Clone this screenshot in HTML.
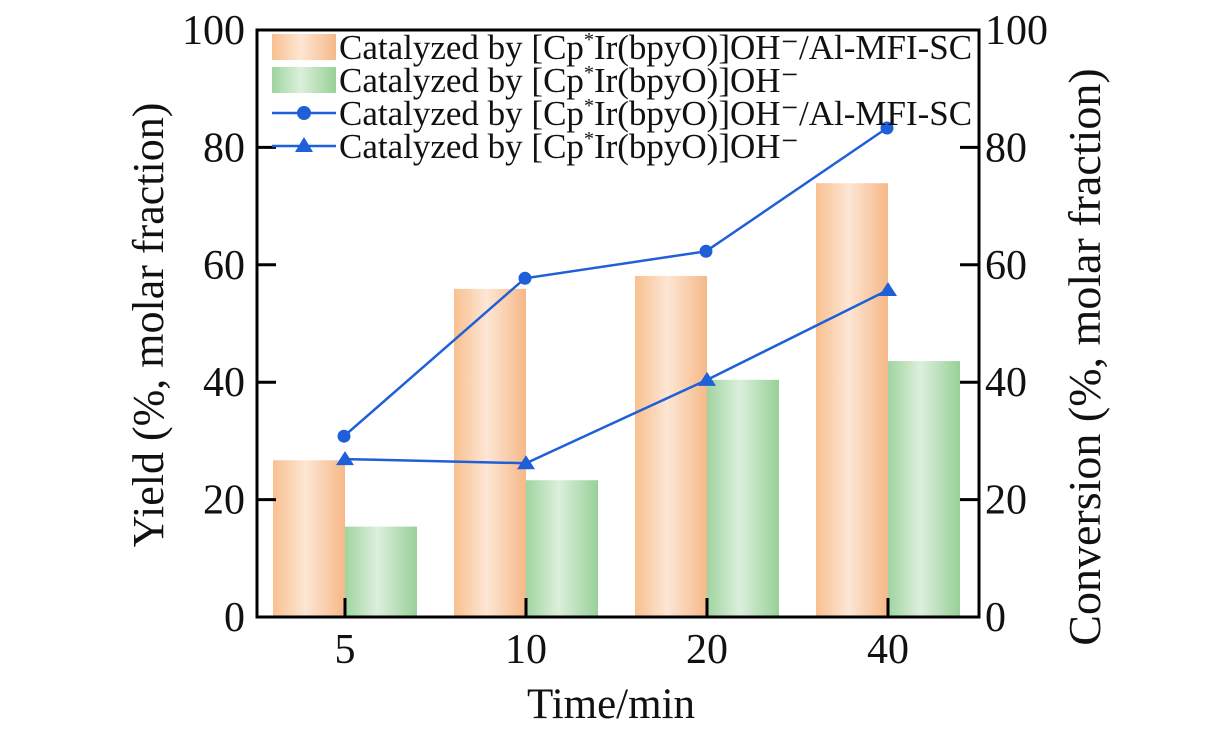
<!DOCTYPE html>
<html><head><meta charset="utf-8"><style>
body{margin:0;background:#fff;}
svg text{font-family:"Liberation Serif",serif;fill:#111;}
</style></head><body>
<svg id="chart" width="1231" height="724" xmlns="http://www.w3.org/2000/svg">
<defs>
<linearGradient id="go" x1="0" x2="1" y1="0" y2="0">
<stop offset="0" stop-color="#f8c090"/><stop offset="0.45" stop-color="#fde6d4"/><stop offset="1" stop-color="#f6b888"/></linearGradient>
<linearGradient id="gg" x1="0" x2="1" y1="0" y2="0">
<stop offset="0" stop-color="#9fd49f"/><stop offset="0.45" stop-color="#dcefdc"/><stop offset="1" stop-color="#98d098"/></linearGradient>
</defs>
<g id="bars"></g><g id="lines"></g><g id="axes"></g>
</svg>
<script>
const categories=["5","10","20","40"];
const yieldAlMFI=[26.7,55.9,58.1,73.9];
const yieldHomog=[15.4,23.3,40.4,43.6];
const convAlMFI=[30.8,57.7,62.3,83.3];
const convHomog=[26.9,26.2,40.4,55.7];
const yTicks=[0,20,40,60,80,100];
const NS="http://www.w3.org/2000/svg";
const L=257,R=979,T=30,B=617;
const y=v=>B-(v/100)*(B-T);
const xc=i=>345+i*181;
function mk(tag,attrs,parent,txt){const e=document.createElementNS(NS,tag);for(const k in attrs)e.setAttribute(k,attrs[k]);if(txt!==undefined)e.textContent=txt;(typeof parent==='string'?document.getElementById(parent):parent).appendChild(e);return e;}
const bw=72;
categories.forEach((c,i)=>{
 let r=mk('rect',{x:xc(i)-bw,y:y(yieldAlMFI[i]),width:bw,height:B-y(yieldAlMFI[i]),fill:'url(#go)'},'bars');
 
 
 let g=mk('rect',{x:xc(i),y:y(yieldHomog[i]),width:bw,height:B-y(yieldHomog[i]),fill:'url(#gg)'},'bars');
 
 
});
function series(vals,marker,name){
 const pts=vals.map((v,i)=>[xc(i)+(marker==='c'?-1:0),y(v)]);
 let p=mk('polyline',{points:pts.map(p=>p.join(',')).join(' '),fill:'none',stroke:'#1f5fd8','stroke-width':2.5},'lines');
 
 
 pts.forEach((q,i)=>{
  let m;
  if(marker==='c')m=mk('circle',{cx:q[0],cy:q[1],r:6.5,fill:'#1f5fd8'},'lines');
  else m=mk('polygon',{points:`${q[0]},${q[1]-8} ${q[0]-9},${q[1]+6} ${q[0]+9},${q[1]+6}`,fill:'#1f5fd8'},'lines');
  
  
 });
}
series(convAlMFI,'c','conversion-al-mfi');
series(convHomog,'t','conversion-homogeneous');
let fr=mk('rect',{x:L,y:T,width:R-L,height:B-T,fill:'none',stroke:'#000','stroke-width':3},'axes');

yTicks.forEach(t=>{
 mk('line',{x1:L,x2:L+19,y1:y(t),y2:y(t),stroke:'#000','stroke-width':3},'axes');
 mk('line',{x1:R-19,x2:R,y1:y(t),y2:y(t),stroke:'#000','stroke-width':3},'axes');
 let a=mk('text',{x:L-12,y:y(t)+14,'text-anchor':'end','font-size':42},'axes',t);
 
 let b=mk('text',{x:R+6,y:y(t)+14,'text-anchor':'start','font-size':42},'axes',t);
 
});
categories.forEach((c,i)=>{
 mk('line',{x1:xc(i),x2:xc(i),y1:B,y2:B-19,stroke:'#000','stroke-width':3},'axes');
 let t=mk('text',{x:xc(i),y:B+46,'text-anchor':'middle','font-size':42},'axes',c);
 
});
let xt=mk('text',{x:611,y:718,'text-anchor':'middle','font-size':43},'axes','Time/min');

let yl=mk('text',{transform:'translate(163,325) rotate(-90)','text-anchor':'middle','font-size':44},'axes','Yield (%, molar fraction)');

let yr=mk('text',{transform:'translate(1100,357) rotate(-90)','text-anchor':'middle','font-size':46},'axes','Conversion (%, molar fraction)');

const labels=['Catalyzed by [Cp*Ir(bpyO)]OH⁻/Al-MFI-SC','Catalyzed by [Cp*Ir(bpyO)]OH⁻','Catalyzed by [Cp*Ir(bpyO)]OH⁻/Al-MFI-SC','Catalyzed by [Cp*Ir(bpyO)]OH⁻'];
const lg=mk('g',{},'axes');

labels.forEach((lab,k)=>{
 const yy=47+k*33;
 let ent=mk('g',{},lg);
 
 
 if(k<2)mk('rect',{x:272,y:yy-13,width:64,height:26,fill:k?'url(#gg)':'url(#go)'},ent);
 else{mk('line',{x1:272,x2:336,y1:yy,y2:yy,stroke:'#1f5fd8','stroke-width':2.5},ent);
  if(k==2)mk('circle',{cx:304,cy:yy,r:7,fill:'#1f5fd8'},ent);
  else mk('polygon',{points:`304,${yy-9} 295,${yy+6} 313,${yy+6}`,fill:'#1f5fd8'},ent);}
 const parts=lab.split('*');
 let t=mk('text',{x:339,y:yy+12,'font-size':35},ent);
 const s1=document.createElementNS(NS,'tspan');s1.textContent=parts[0];t.appendChild(s1);
 const s2=document.createElementNS(NS,'tspan');s2.textContent='*';s2.setAttribute('font-size','20');s2.setAttribute('dy','-13');t.appendChild(s2);
 const s3=document.createElementNS(NS,'tspan');s3.textContent=parts[1];s3.setAttribute('dy','13');t.appendChild(s3);
});
</script>
</body></html>
